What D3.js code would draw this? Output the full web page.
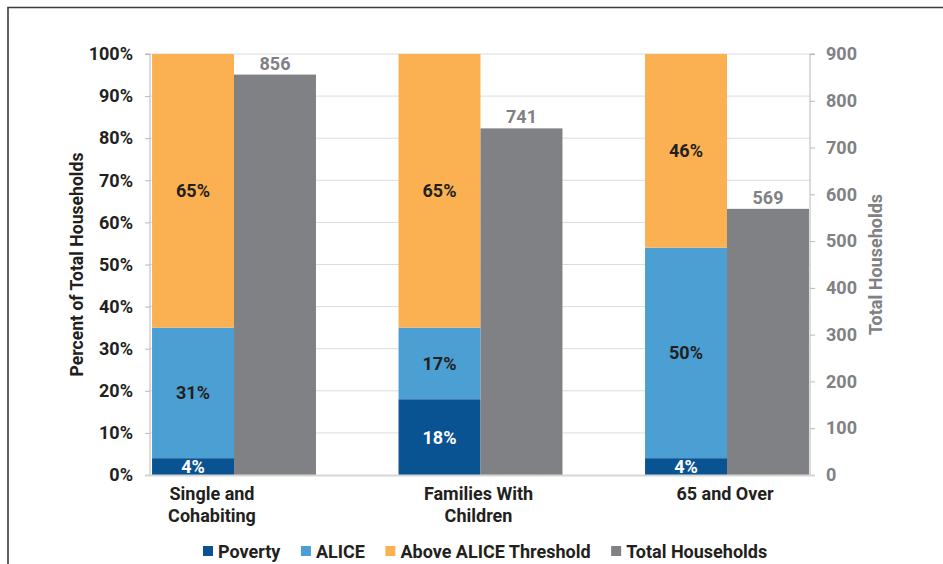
<!DOCTYPE html>
<html><head><meta charset="utf-8">
<script src="https://cdn.jsdelivr.net/npm/d3@7"></script>
<style>body{margin:0;background:#fff}svg{display:block}text{font-family:Roboto,"Noto Sans",sans-serif;font-weight:700}</style>
</head><body>
<svg id="c" width="943" height="564"></svg>
<script>
const categories = ["Single and|Cohabiting", "Families With|Children", "65 and Over"];
const poverty = [4, 18, 4];
const alice = [31, 17, 50];
const above = [65, 65, 46];
const totals = [856, 741, 569];
const pctTicks = [0,10,20,30,40,50,60,70,80,90,100];
const countTicks = [0,100,200,300,400,500,600,700,800,900];
const seriesNames = ["Poverty", "ALICE", "Above ALICE Threshold", "Total Households"];
const colors = ["#0a5392", "#4b9fd3", "#fbb152", "#808184"];

const svg = d3.select("#c");
const pTop = 54, pBottom = 475, pLeft = 150, pRight = 810;
const FS = 18;

// frame
svg.append("path").attr("d","M8,564V7.5H943").attr("fill","none").attr("stroke","#3a3a3a").attr("stroke-width",1.6);

const y = d3.scaleLinear().domain([0,100]).range([pBottom, pTop]);
const y2 = d3.scaleLinear().domain([0,900]).range([pBottom, pTop]);
const x = d3.scaleBand().domain(d3.range(categories.length)).range([110.75, 850.25]).paddingInner(0.335).paddingOuter(0.1675);
const bw = x.bandwidth()/2;

// gridlines
svg.append("g").selectAll("line").data(pctTicks.filter(d=>d>0)).join("line")
  .attr("x1",pLeft).attr("x2",pRight).attr("y1",d=>y(d)).attr("y2",d=>y(d))
  .attr("stroke","#dcdcdc").attr("stroke-width",1);

// stacked bars
const stack = categories.map((c,i)=>{
  const segs=[poverty[i],alice[i],above[i]]; let acc=0;
  return segs.map((v,k)=>{const s={i,k,v,y0:acc,y1:acc+v}; acc+=v; return s;});
}).flat();
svg.append("g").selectAll("rect").data(stack).join("rect")
  .attr("x",d=>x(d.i)).attr("width",bw)
  .attr("y",d=>y(d.y1)).attr("height",d=>y(d.y0)-y(d.y1))
  .attr("fill",d=>colors[d.k]);
svg.append("g").selectAll("text").data(stack).join("text")
  .attr("x",d=>x(d.i)+bw/2).attr("y",d=>(y(d.y0)+y(d.y1))/2+6.5)
  .attr("text-anchor","middle").attr("font-size",FS)
  .attr("fill",d=>d.k===0?"#ffffff":"#231f20")
  .text(d=>d.v+"%");

// total bars
svg.append("g").selectAll("rect").data(totals).join("rect")
  .attr("x",(d,i)=>x(i)+bw).attr("width",bw)
  .attr("y",d=>y2(d)).attr("height",d=>y2(0)-y2(d))
  .attr("fill",colors[3]);
svg.append("g").selectAll("text").data(totals).join("text")
  .attr("x",(d,i)=>x(i)+bw*1.5).attr("y",d=>y2(d)-5)
  .attr("text-anchor","middle").attr("font-size",FS).attr("fill","#808184")
  .text(d=>d);

// axes
const la = svg.append("g").attr("transform",`translate(${pLeft},0)`)
  .call(d3.axisLeft(y).tickValues(pctTicks).tickFormat(d=>d+"%").tickSize(5).tickPadding(12));
la.select(".domain").attr("stroke","#b8b8b8").attr("d",`M-5,${pTop}H0V${pBottom}`);
la.selectAll(".tick line").attr("stroke","#b8b8b8");
la.selectAll(".tick text").attr("font-size",FS).attr("fill","#231f20").attr("font-family","Roboto");

const ra = svg.append("g").attr("transform",`translate(${pRight},0)`)
  .call(d3.axisRight(y2).tickValues(countTicks).tickSize(5).tickPadding(11));
ra.select(".domain").attr("stroke","#b8b8b8").attr("d",`M5,${pTop}H0V${pBottom}`);
ra.selectAll(".tick line").attr("stroke","#b8b8b8");
ra.selectAll(".tick text").attr("font-size",FS).attr("fill","#808184").attr("font-family","Roboto");

// baseline
svg.append("line").attr("x1",pLeft-4).attr("x2",pRight+5).attr("y1",pBottom+0.5).attr("y2",pBottom+0.5)
  .attr("stroke","#d6d6d6").attr("stroke-width",2);

// category labels
const labelX = i => i===0 ? x(i)+bw - 22 : x(i)+bw - 2;
const cl = svg.append("g").selectAll("text").data(categories).join("text")
  .attr("x",(d,i)=>labelX(i)).attr("y",500).attr("text-anchor","middle")
  .attr("font-size",FS).attr("fill","#231f20");
cl.each(function(d,i){
  const t=d3.select(this);
  d.split("|").forEach((s,j)=>t.append("tspan").attr("x",labelX(i)).attr("dy",j?22:0).text(s));
});

// axis titles
svg.append("text").attr("transform",`translate(83,${(pTop+pBottom)/2}) rotate(-90)`)
  .attr("text-anchor","middle").attr("font-size",17.6).attr("fill","#231f20")
  .attr("font-family","'Liberation Sans',Arial,sans-serif").text("Percent of Total Households");
svg.append("text").attr("transform",`translate(881.5,${(pTop+pBottom)/2}) rotate(-90)`)
  .attr("text-anchor","middle").attr("font-size",FS).attr("fill","#808184")
  .text("Total Households");

// legend
const lg = svg.append("g").attr("transform","translate(0,551)");
let lx = 203;
seriesNames.forEach((n,i)=>{
  lg.append("rect").attr("x",lx).attr("y",-5).attr("width",10).attr("height",10).attr("fill",colors[i]);
  const t = lg.append("text").attr("x",lx+15).attr("y",6.5).attr("font-size",FS).attr("fill","#231f20").text(n);
  lx += 15 + t.node().getComputedTextLength() + 20.5;
});
</script>
</body></html>
